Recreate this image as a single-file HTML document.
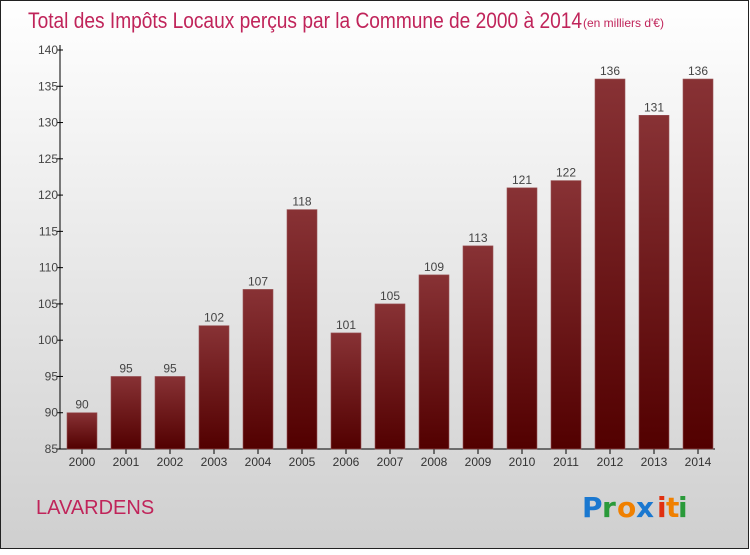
<!DOCTYPE html>
<html><head><meta charset="utf-8"><style>
body{margin:0;width:750px;height:550px;overflow:hidden;font-family:"Liberation Sans",sans-serif}
</style></head><body>
<svg id="c" width="750" height="550" xmlns="http://www.w3.org/2000/svg">
<defs>
<linearGradient id="bg" x1="0" y1="0" x2="0" y2="1"><stop offset="0" stop-color="#ffffff"/><stop offset="1" stop-color="#cfcfcf"/></linearGradient>
<linearGradient id="bar" x1="0" y1="0" x2="0" y2="1"><stop offset="0" stop-color="#883235"/><stop offset="1" stop-color="#520000"/></linearGradient>
</defs>
<rect x="0.5" y="0.5" width="748" height="548" fill="url(#bg)" stroke="#222"/>
<text x="28" y="28" font-size="22" fill="#c0245a" font-weight="300" textLength="554" lengthAdjust="spacingAndGlyphs">Total des Impôts Locaux perçus par la Commune de 2000 à 2014</text>
<text x="583" y="27" font-size="12" fill="#c0245a">(en milliers d'€)</text>
<g id="axes"></g><g id="bars"></g>
<text x="36" y="514" font-size="20" fill="#c0245a">LAVARDENS</text>
<g font-size="28" font-family="'DejaVu Sans',sans-serif" font-weight="bold">
<text x="582" y="517" fill="#1a78d0">P</text><text x="602" y="517" fill="#2a9a3a">r</text><text x="617" y="517" fill="#f08000">o</text><text x="636" y="517" fill="#1a78d0">x</text><text x="657" y="517" fill="#e03010">i</text><text x="666" y="517" fill="#f08000">t</text><text x="678" y="517" fill="#2a9a3a">i</text>
</g>
</svg>
<script>
const years=["2000","2001","2002","2003","2004","2005","2006","2007","2008","2009","2010","2011","2012","2013","2014"];
const values=[90,95,95,102,107,118,101,105,109,113,121,122,136,131,136];
const yTicks=[85,90,95,100,105,110,115,120,125,130,135,140];
const NS="http://www.w3.org/2000/svg";
const y=v=>449-(v-85)*(399/55);
const x=i=>82+i*44;
function mk(t,a,p){const e=document.createElementNS(NS,t);for(const k in a)e.setAttribute(k,a[k]);p.appendChild(e);return e;}
const ax=document.getElementById('axes'),bs=document.getElementById('bars');
let l=mk('line',{x1:60,y1:45,x2:60,y2:449,stroke:'#000'},ax);


l=mk('line',{x1:60,y1:449,x2:715,y2:449,stroke:'#000'},ax);


yTicks.forEach(v=>{
 const t=mk('line',{x1:57,y1:y(v),x2:63,y2:y(v),stroke:'#000'},ax);
 
 
 const tx=mk('text',{x:58,y:y(v)+4,'font-size':12,'text-anchor':'end',fill:'#444'},ax);
 tx.textContent=v;
 
 
});
years.forEach((yr,i)=>{
 const v=values[i];
 const r=mk('rect',{x:x(i)-15,y:y(v),width:30,height:449-y(v),fill:'url(#bar)',stroke:'#9a5558','stroke-width':0.6},bs);
 
 
 const t=mk('line',{x1:x(i),y1:449,x2:x(i),y2:454,stroke:'#000'},ax);
 
 
 const lb=mk('text',{x:x(i),y:466,'font-size':12,'text-anchor':'middle',fill:'#333'},ax);
 lb.textContent=yr;
 
 
 const vl=mk('text',{x:x(i),y:y(v)-4,'font-size':12,'text-anchor':'middle',fill:'#444'},bs);
 vl.textContent=v;
 
 
});
</script>
</body></html>
